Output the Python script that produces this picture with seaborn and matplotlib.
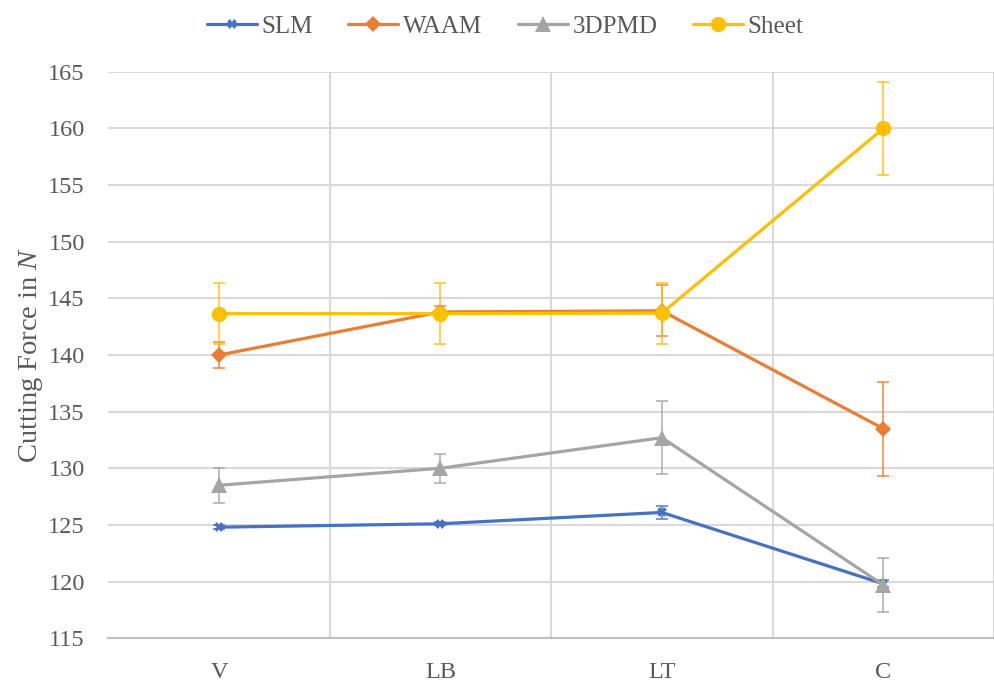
import matplotlib
matplotlib.use("Agg")
import matplotlib.pyplot as plt
import seaborn as sns
import pandas as pd
import numpy as np

categories = ["V", "LB", "LT", "C"]
series = ["SLM", "WAAM", "3DPMD", "Sheet"]
slm = [124.8, 125.1, 126.1, 119.8]
slm_err = [0.15, 0.15, 0.55, 0.3]
waam = [140.0, 143.8, 143.9, 133.5]
waam_err = [1.15, 0.5, 2.25, 4.15]
pmd = [128.5, 130.0, 132.7, 119.7]
pmd_err = [1.55, 1.3, 3.25, 2.35]
sheet = [143.65, 143.65, 143.7, 160.0]
sheet_err = [2.7, 2.7, 2.7, 4.1]
yticks = [115, 120, 125, 130, 135, 140, 145, 150, 155, 160, 165]

values = {"SLM": slm, "WAAM": waam, "3DPMD": pmd, "Sheet": sheet}
errors = {"SLM": slm_err, "WAAM": waam_err, "3DPMD": pmd_err, "Sheet": sheet_err}
colors = {"SLM": "#4472C4", "WAAM": "#ED7D31", "3DPMD": "#A5A5A5", "Sheet": "#FFC000"}
markers = {"SLM": "X", "WAAM": "D", "3DPMD": "^", "Sheet": "o"}
msizes = {"SLM": 6.5, "WAAM": 8, "3DPMD": 11, "Sheet": 11}

rows = []
for s in series:
    for i, c in enumerate(categories):
        rows.append({"series": s, "pos": i, "cat": c, "force": values[s][i], "err": errors[s][i]})
df = pd.DataFrame(rows)

sns.set_theme(style="white")
plt.rcParams["font.family"] = ["Liberation Serif", "DejaVu Serif"]
plt.rcParams["mathtext.fontset"] = "custom"
plt.rcParams["mathtext.it"] = "Liberation Serif:italic"
plt.rcParams["mathtext.rm"] = "Liberation Serif"

fig = plt.figure(figsize=(9.94, 6.84), dpi=100)
ax = fig.add_axes([0.109, 0.067, 0.891, 0.828])

for k, s in enumerate(series):
    sub = df[df["series"] == s]
    ax.errorbar(sub["pos"], sub["force"], yerr=sub["err"], fmt="none",
                ecolor=colors[s], elinewidth=1.2, capsize=4.5, capthick=1.2,
                zorder=2 + k, alpha=0.85)
    sns.lineplot(data=sub, x="pos", y="force", ax=ax, color=colors[s],
                 marker=markers[s], markersize=msizes[s], markeredgewidth=0,
                 linewidth=2.3, label=s, zorder=3 + k, errorbar=None, sort=False)

ax.set_xlim(-0.5, 3.5)
ax.set_ylim(115, 165)
ax.set_yticks(yticks)
ax.set_xticks(range(len(categories)))
ax.set_xticklabels(categories)
ax.set_xticks([0.5, 1.5, 2.5, 3.5], minor=True)
ax.grid(False)
ax.yaxis.grid(True, which="major", color="#D9D9D9", linewidth=1.5)
ax.xaxis.grid(True, which="minor", color="#D9D9D9", linewidth=1.5)
ax.set_axisbelow(True)
ax.tick_params(axis="both", which="both", length=0, labelsize=17.5, colors="#595959")
ax.tick_params(axis="y", pad=17)
ax.tick_params(axis="x", pad=17)
for sp in ["top", "right", "left"]:
    ax.spines[sp].set_visible(False)
ax.spines["bottom"].set_color("#BFBFBF")
ax.spines["bottom"].set_linewidth(1.5)
ax.set_xlabel("")
ax.set_ylabel("Cutting Force in $\\it{N}$", fontsize=20.5, color="#595959")
ax.yaxis.set_label_coords(-0.071, 0.5)

ax.legend(loc="upper center", bbox_to_anchor=(0.448, 1.14), ncol=4, frameon=False,
          fontsize=18, handlelength=2.0, columnspacing=1.4, handletextpad=0.2,
          labelcolor="#595959")

fig.savefig("out.png", dpi=100)
